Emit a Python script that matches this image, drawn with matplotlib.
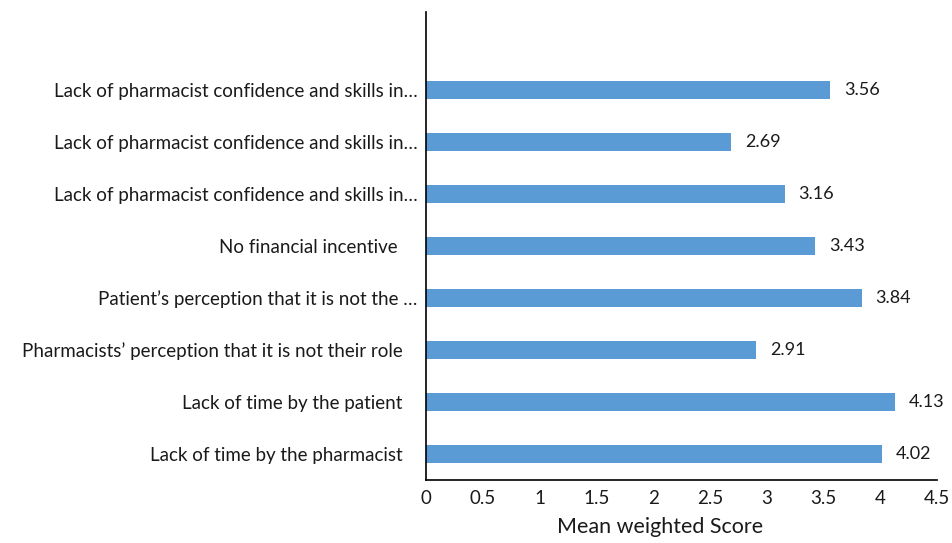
import matplotlib
matplotlib.use("Agg")
import matplotlib.pyplot as plt

plt.rcParams['font.family'] = ['Lato', 'DejaVu Sans']

categories = [
    "Lack of time by the pharmacist",
    "Lack of time by the patient",
    "Pharmacists\u2019 perception that it is not their role",
    "Patient\u2019s perception that it is not the \u2026",
    "No financial incentive ",
    "Lack of pharmacist confidence and skills in\u2026",
    "Lack of pharmacist confidence and skills in\u2026",
    "Lack of pharmacist confidence and skills in\u2026",
]
values = [4.02, 4.13, 2.91, 3.84, 3.43, 3.16, 2.69, 3.56]
xticks = [0, 0.5, 1, 1.5, 2, 2.5, 3, 3.5, 4, 4.5]
xtick_labels = ["0", "0.5", "1", "1.5", "2", "2.5", "3", "3.5", "4", "4.5"]

W, H = 952, 543
fig = plt.figure(figsize=(W / 100, H / 100), dpi=100)
ax = fig.add_axes([426 / W, 1 - 480 / H, (937 - 426) / W, (480 - 12) / H])

pos = list(range(len(categories)))
ax.barh(pos, values, height=0.35, color="#5B9BD5")
for p, v in zip(pos, values):
    ax.text(v + 0.12, p, f"{v:.2f}", va="center", ha="left", fontsize=13, color="#1a1a1a")

ax.set_xlim(0, 4.5)
ax.set_ylim(-0.5, 8.5)
ax.set_yticks(pos)
ax.set_yticklabels(categories, fontsize=13.5, color="#1a1a1a")
ax.set_xticks(xticks)
ax.set_xticklabels(xtick_labels, fontsize=13.5, color="#1a1a1a")
ax.tick_params(axis="y", length=0)
ax.tick_params(axis="x", length=0, pad=7)
for t, lab in zip(ax.yaxis.get_major_ticks(), categories):
    t.set_pad(6 if lab.endswith("\u2026") else 17)

for s in ["top", "right"]:
    ax.spines[s].set_visible(False)
for s in ["left", "bottom"]:
    ax.spines[s].set_color("black")
    ax.spines[s].set_linewidth(1.2)

fig.text(660 / W, 1 - 527 / H, "Mean weighted Score", ha="center", va="center",
         fontsize=15.5, color="#1a1a1a")

fig.savefig("out.png", dpi=100)
